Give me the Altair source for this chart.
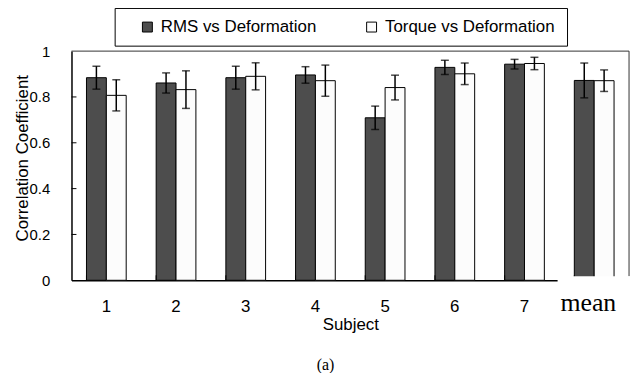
import altair as alt
import pandas as pd

cats = ["1", "2", "3", "4", "5", "6", "7", "mean"]
series = ["RMS vs Deformation", "Torque vs Deformation"]
rms = [0.884, 0.861, 0.884, 0.896, 0.709, 0.929, 0.943, 0.872]
rms_err = [0.050, 0.044, 0.050, 0.036, 0.051, 0.031, 0.021, 0.076]
torque = [0.807, 0.832, 0.890, 0.871, 0.841, 0.901, 0.946, 0.871]
torque_err = [0.068, 0.082, 0.059, 0.068, 0.054, 0.047, 0.027, 0.047]
ytick_vals = [0, 0.2, 0.4, 0.6, 0.8, 1]
inner_ticks = [0.2, 0.4, 0.6, 0.8]

rows = []
for c, v, e in zip(cats, rms, rms_err):
    rows.append({"cat": c, "series": series[0], "v": v, "lo": v - e, "hi": v + e})
for c, v, e in zip(cats, torque, torque_err):
    rows.append({"cat": c, "series": series[1], "v": v, "lo": v - e, "hi": v + e})
df = pd.DataFrame(rows)

W, H = 562, 231

xenc = alt.X("cat:N", sort=cats,
             scale=alt.Scale(paddingInner=0.43, paddingOuter=0.215),
             axis=alt.Axis(title="Subject", labelAngle=0, tickSize=0,
                           labelPadding=18, titlePadding=3,
                           labelExpr="datum.value == 'mean' ? '' : datum.value"))
xoff = alt.XOffset("series:N", sort=series,
                   scale=alt.Scale(paddingInner=0, paddingOuter=0))
yscale = alt.Scale(domain=[0, 1], nice=False)

base = alt.Chart(df)

bars = base.mark_bar(stroke="black", strokeWidth=1).encode(
    x=xenc,
    xOffset=xoff,
    y=alt.Y("v:Q", scale=yscale,
            axis=alt.Axis(title="Correlation Coefficient", values=ytick_vals,
                          format="~g", labelFontSize=15,
                          tickSize=0, labelPadding=22, grid=False,
                          titleX=-49, titleY=H / 2 - 8, titleAngle=270,
                          titleBaseline="middle", titleAlign="center")),
    fill=alt.Fill("series:N", sort=series,
                  scale=alt.Scale(domain=series, range=["#4d4d4d", "#fcfcfc"]),
                  legend=alt.Legend(title=None, orient="none", direction="horizontal",
                                    legendX=68, legendY=-33, padding=0,
                                    columnPadding=47, labelOffset=5,
                                    symbolType="square", symbolSize=100,
                                    symbolStrokeColor="black", symbolStrokeWidth=1,
                                    labelFontSize=17, labelColor="black",
                                    labelLimit=300)),
)

err_rule = base.mark_rule(color="black", strokeWidth=1.5).encode(
    x=alt.X("cat:N", sort=cats), xOffset=xoff,
    y=alt.Y("lo:Q", scale=yscale), y2="hi:Q")
cap_lo = base.mark_tick(color="black", size=8, thickness=1.5).encode(
    x=alt.X("cat:N", sort=cats), xOffset=xoff, y=alt.Y("lo:Q", scale=yscale))
cap_hi = base.mark_tick(color="black", size=8, thickness=1.5).encode(
    x=alt.X("cat:N", sort=cats), xOffset=xoff, y=alt.Y("hi:Q", scale=yscale))

cat_df = pd.DataFrame({"cat": cats})
band_ticks = alt.Chart(cat_df).mark_rule(color="black", strokeWidth=1).encode(
    x=alt.X("cat:N", sort=cats, bandPosition=0),
    y=alt.value(H - 5), y2=alt.value(H))

ytick_df = pd.DataFrame({"v": inner_ticks})
y_ticks = alt.Chart(ytick_df).mark_rule(color="black", strokeWidth=1).encode(
    y=alt.Y("v:Q", scale=yscale), x=alt.value(0), x2=alt.value(5))

one = pd.DataFrame({"k": [0]})
frame_top = alt.Chart(one).mark_rule(color="#333333", strokeWidth=1).encode(
    x=alt.value(0), x2=alt.value(W), y=alt.value(0))
frame_right = alt.Chart(one).mark_rule(color="#333333", strokeWidth=1).encode(
    x=alt.value(W), y=alt.value(0), y2=alt.value(H - 4))

patch = alt.Chart(one).mark_rect(fill="white").encode(
    x=alt.value(490), x2=alt.value(W + 6), y=alt.value(H - 4), y2=alt.value(H + 29))

mean_txt = alt.Chart(one).mark_text(text="mean", font="Liberation Serif",
                                    fontSize=26, align="center", color="black").encode(
    x=alt.value(521), y=alt.value(254))
cap_txt = alt.Chart(one).mark_text(text="(a)", font="Liberation Serif",
                                   fontSize=16, align="center", baseline="middle",
                                   color="black").encode(
    x=alt.value(256), y=alt.value(316))

legend_box = alt.Chart(one).mark_rect(fill=None, stroke="black", strokeWidth=1).encode(
    x=alt.value(44), x2=alt.value(500), y=alt.value(-43), y2=alt.value(-5))

chart = alt.layer(
    legend_box, bars, err_rule, cap_lo, cap_hi, band_ticks, y_ticks,
    frame_top, frame_right, patch, mean_txt, cap_txt
).properties(
    width=W, height=H,
    autosize=alt.AutoSizeParams(type="none"),
    padding={"left": 64, "top": 42, "right": 4, "bottom": 92},
).configure(
    font="Liberation Sans",
).configure_view(
    stroke=None,
).configure_axis(
    labelFontSize=17, titleFontSize=17, labelColor="black", titleColor="black",
    titleFontWeight="normal", domainColor="black", domainWidth=1.5, grid=False,
)

chart.save("out.html", embed_options={"renderer": "svg", "actions": False})
